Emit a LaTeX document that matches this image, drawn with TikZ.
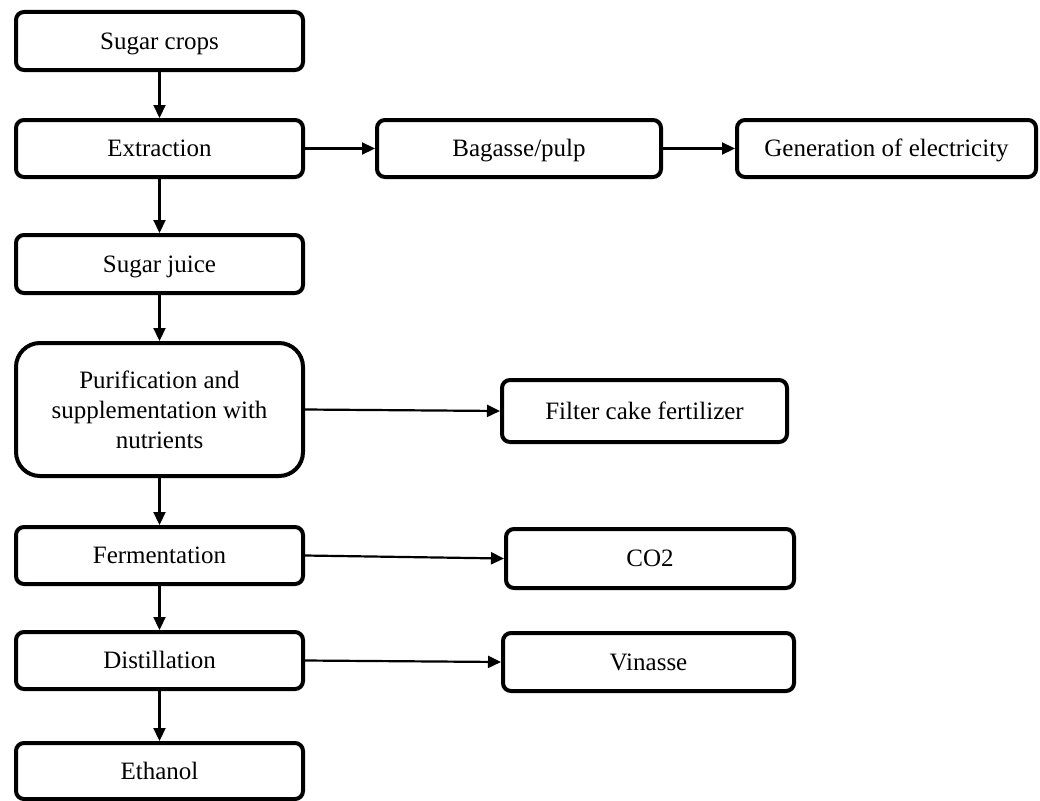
\documentclass[tikz,border=0pt]{standalone}
\usepackage{fontspec}
\setmainfont{Liberation Serif}
\usetikzlibrary{arrows.meta}
\begin{document}
\begin{tikzpicture}[x=1pt,y=-1pt,
  box/.style={draw=black, line width=4pt, rounded corners=8pt, fill=white,
    inner sep=0pt, align=center, font=\fontsize{25}{30}\selectfont},
  one/.style={text height=16.5pt, text depth=0pt},
  arr/.style={line width=2.2pt, -{Triangle[length=13pt,width=12pt]}}]
\useasboundingbox (0,0) rectangle (1040,800);
\node[box, one, minimum width=287pt, minimum height=58pt] (crops) at (159.5,41) {Sugar crops};
\node[box, one, minimum width=287pt, minimum height=57pt] (extr) at (159.5,148.5) {Extraction};
\node[box, one, minimum width=287pt, minimum height=58pt] (juice) at (159.5,264) {Sugar juice};
\node[box, rounded corners=24pt, minimum width=287pt, minimum height=133pt] (puri) at (159.5,409.5) {Purification and\\supplementation with\\nutrients};
\node[box, one, minimum width=287pt, minimum height=57pt] (ferm) at (159.5,555.5) {Fermentation};
\node[box, one, minimum width=287pt, minimum height=57pt] (dist) at (159.5,660.5) {Distillation};
\node[box, one, minimum width=287pt, minimum height=56pt] (eth) at (159.5,771) {Ethanol};
\node[box, one, minimum width=284pt, minimum height=57pt] (bag) at (519,148.5) {Bagasse/pulp};
\node[box, one, minimum width=299pt, minimum height=57pt] (elec) at (886.5,148.5) {Generation of electricity};
\node[box, one, minimum width=285pt, minimum height=62pt] (filt) at (644.5,411) {Filter cake fertilizer};
\node[box, one, minimum width=288pt, minimum height=59pt] (co2) at (650,558.5) {CO2};
\node[box, one, minimum width=291pt, minimum height=58pt] (vin) at (648.5,662) {Vinasse};
\draw[arr] (crops) -- (extr);
\draw[arr] (extr) -- (juice);
\draw[arr] (juice) -- (puri);
\draw[arr] (puri) -- (ferm);
\draw[arr] (ferm) -- (dist);
\draw[arr] (dist) -- (eth);
\draw[arr] (extr.east) -- (bag.west);
\draw[arr] (bag.east) -- (elec.west);
\draw[arr] (puri.east) -- (filt.west);
\draw[arr] (ferm.east) -- (co2.west);
\draw[arr] (dist.east) -- (vin.west);
\end{tikzpicture}
\end{document}
